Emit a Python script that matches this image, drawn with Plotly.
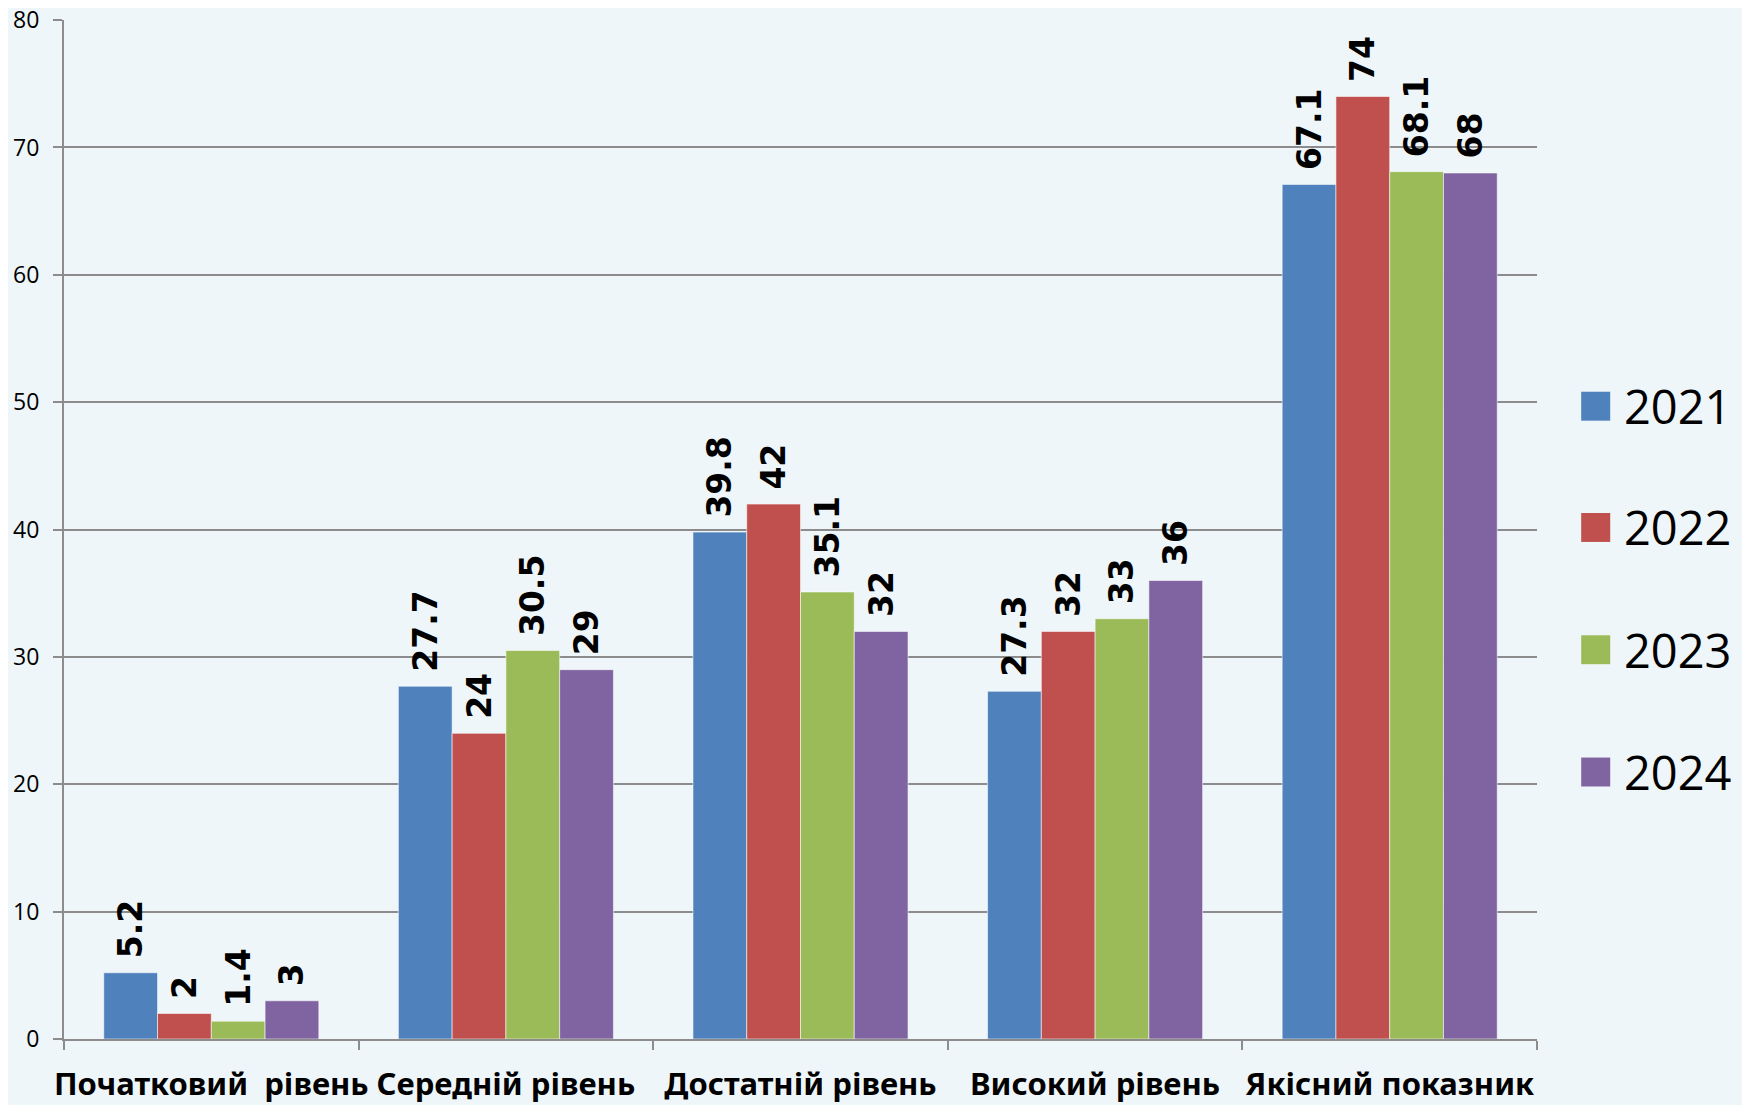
import plotly.graph_objects as go

categories = ["Початковий\u00a0 рівень", "Середній рівень", "Достатній рівень", "Високий рівень", "Якісний показник"]
years = ["2021", "2022", "2023", "2024"]
values_2021 = [5.2, 27.7, 39.8, 27.3, 67.1]
values_2022 = [2, 24, 42, 32, 74]
values_2023 = [1.4, 30.5, 35.1, 33, 68.1]
values_2024 = [3, 29, 32, 36, 68]
y_ticks = [0, 10, 20, 30, 40, 50, 60, 70, 80]

series = [values_2021, values_2022, values_2023, values_2024]
colors = ["#4F81BD", "#C0504D", "#9BBB59", "#8064A2"]
BG = "#EEF6F9"
GRID = "#8C8C8C"

fig = go.Figure()
for name, vals, col in zip(years, series, colors):
    fig.add_trace(go.Bar(
        x=categories, y=vals, name=name,
        marker=dict(color=col, line=dict(color="rgba(255,255,255,0.55)", width=1)),
        text=["\u00a0" + str(v) for v in vals], textposition="outside", textangle=-90,
        constraintext="none", cliponaxis=False,
        textfont=dict(family="DejaVu Sans", size=33, color="black", weight="bold"),
        showlegend=False,
    ))

# manual legend (large squares like the original)
leg_y = [0.621, 0.502, 0.382, 0.262]
for name, col, yy in zip(years, colors, leg_y):
    fig.add_shape(type="rect", xref="paper", yref="paper",
                  x0=1.030, x1=1.0497, y0=yy - 0.0142, y1=yy + 0.0142,
                  fillcolor=col, line=dict(width=0))
    fig.add_annotation(xref="paper", yref="paper", x=1.058, y=yy,
                       text=name, showarrow=False, xanchor="left", yanchor="middle",
                       font=dict(family="Open Sans", size=47, color="black"))

fig.update_layout(
    width=1742, height=1097,
    paper_bgcolor=BG, plot_bgcolor=BG,
    margin=dict(l=56, r=213, t=12, b=66),
    barmode="group", bargap=0.27, bargroupgap=0,
    font=dict(family="Open Sans", color="black"),
)
fig.update_yaxes(
    range=[0, 80.01], tickvals=y_ticks, showgrid=True, gridcolor=GRID, gridwidth=1.5,
    showline=True, linecolor=GRID, linewidth=2, ticks="outside", ticklen=9,
    tickcolor=GRID, tickwidth=1.5, tickfont=dict(family="Open Sans", size=23, color="black"),
    zeroline=False, ticklabelstandoff=9, automargin=False, ticklabeloverflow="allow",
)
fig.update_xaxes(
    showline=True, linecolor=GRID, linewidth=2, ticks="outside", ticklen=9,
    tickcolor=GRID, tickwidth=1.5, tickson="boundaries", tickangle=0,
    tickfont=dict(family="Noto Sans", size=31, color="black", weight="bold"),
    ticklabelstandoff=17, automargin=False, ticklabeloverflow="allow",
)

fig.write_html("out.html")
